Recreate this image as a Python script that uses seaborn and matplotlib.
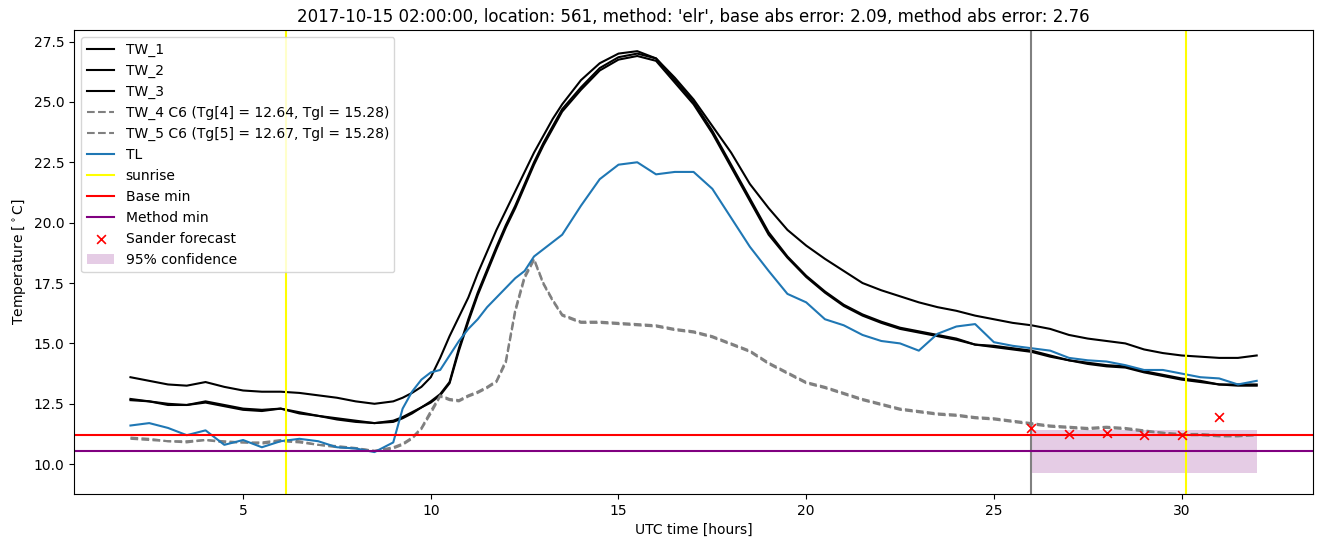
import numpy as np
import matplotlib
matplotlib.use("Agg")
import matplotlib.pyplot as plt
import seaborn as sns

# time grid (hours UTC), finer during the morning warm-up
hours = [2.0, 2.5, 3.0, 3.5, 4.0, 4.5, 5.0, 5.5, 6.0, 6.5, 7.0, 7.5, 8.0, 8.5,
         9.0, 9.25, 9.5, 9.75, 10.0, 10.25, 10.5, 10.75, 11.0, 11.25, 11.5, 11.75,
         12.0, 12.25, 12.5, 12.75, 13.0, 13.25, 13.5,
         14.0, 14.5, 15.0, 15.5, 16.0, 16.5, 17.0, 17.5, 18.0, 18.5, 19.0, 19.5,
         20.0, 20.5, 21.0, 21.5, 22.0, 22.5, 23.0, 23.5, 24.0, 24.5, 25.0, 25.5,
         26.0, 26.5, 27.0, 27.5, 28.0, 28.5, 29.0, 29.5, 30.0, 30.5, 31.0, 31.5, 32.0]

tw_1 = [12.7, 12.6, 12.5, 12.45, 12.6, 12.45, 12.3, 12.25, 12.3, 12.15, 12.0, 11.9, 11.8, 11.7,
        11.8, 11.95, 12.15, 12.35, 12.6, 12.9, 13.4, 14.8, 16.0, 17.1, 18.05, 19.0,
        19.9, 20.7, 21.6, 22.5, 23.3, 24.0, 24.7,
        25.6, 26.4, 26.85, 27.0, 26.8, 25.9, 25.0, 23.8, 22.4, 21.0, 19.6, 18.6,
        17.8, 17.15, 16.6, 16.2, 15.9, 15.65, 15.5, 15.35, 15.2, 14.95, 14.9, 14.8,
        14.7, 14.5, 14.3, 14.2, 14.1, 14.05, 13.85, 13.7, 13.55, 13.45, 13.3, 13.3, 13.3]

tw_2 = [12.65, 12.6, 12.45, 12.45, 12.55, 12.4, 12.25, 12.2, 12.3, 12.1, 12.0, 11.85, 11.75, 11.7,
        11.75, 11.9, 12.1, 12.35, 12.55, 12.85, 13.35, 14.7, 15.9, 17.0, 17.95, 18.9,
        19.8, 20.6, 21.5, 22.4, 23.2, 23.9, 24.6,
        25.5, 26.3, 26.75, 26.9, 26.7, 25.8, 24.9, 23.7, 22.3, 20.9, 19.5, 18.55,
        17.75, 17.1, 16.55, 16.15, 15.85, 15.6, 15.45, 15.3, 15.15, 14.95, 14.85, 14.75,
        14.65, 14.45, 14.3, 14.15, 14.05, 14.0, 13.8, 13.65, 13.5, 13.4, 13.3, 13.25, 13.25]

tw_3 = [13.6, 13.45, 13.3, 13.25, 13.4, 13.2, 13.05, 13.0, 13.0, 12.95, 12.85, 12.75, 12.6, 12.5,
        12.6, 12.75, 12.95, 13.2, 13.6, 14.4, 15.3, 16.1, 16.9, 17.9, 18.8, 19.7,
        20.5, 21.3, 22.1, 22.9, 23.6, 24.3, 24.9,
        25.9, 26.6, 27.0, 27.1, 26.8, 26.0, 25.1, 24.0, 22.9, 21.6, 20.6, 19.7,
        19.05, 18.5, 18.0, 17.5, 17.2, 16.95, 16.7, 16.5, 16.35, 16.15, 16.0, 15.85,
        15.75, 15.6, 15.35, 15.2, 15.1, 15.0, 14.75, 14.6, 14.5, 14.45, 14.4, 14.4, 14.5]

tw_4 = [11.1, 11.05, 10.95, 10.95, 11.0, 10.95, 10.9, 10.9, 11.0, 10.95, 10.8, 10.75, 10.67, 10.55,
        10.7, 10.85, 11.1, 11.5, 12.2, 12.85, 12.7, 12.65, 12.85, 13.0, 13.2, 13.45,
        14.3, 16.4, 17.8, 18.5, 17.5, 16.8, 16.2,
        15.9, 15.9, 15.85, 15.8, 15.75, 15.6, 15.5, 15.3, 15.0, 14.7, 14.2, 13.8,
        13.4, 13.2, 12.95, 12.7, 12.5, 12.3, 12.2, 12.1, 12.05, 11.95, 11.9, 11.8,
        11.7, 11.6, 11.55, 11.5, 11.55, 11.5, 11.4, 11.3, 11.25, 11.25, 11.2, 11.2, 11.2]

tw_5 = [11.05, 11.0, 10.95, 10.9, 11.0, 10.9, 10.9, 10.85, 10.95, 10.9, 10.8, 10.7, 10.65, 10.55,
        10.65, 10.8, 11.05, 11.45, 12.1, 12.8, 12.65, 12.6, 12.8, 12.95, 13.15, 13.4,
        14.2, 16.3, 17.7, 18.45, 17.45, 16.75, 16.15,
        15.85, 15.85, 15.8, 15.75, 15.7, 15.55, 15.45, 15.25, 14.95, 14.65, 14.15, 13.75,
        13.35, 13.15, 12.9, 12.65, 12.45, 12.25, 12.15, 12.05, 12.0, 11.9, 11.85, 11.75,
        11.65, 11.55, 11.5, 11.45, 11.5, 11.45, 11.35, 11.3, 11.2, 11.2, 11.15, 11.15, 11.2]

tl = [11.6, 11.7, 11.5, 11.2, 11.4, 10.8, 11.0, 10.7, 10.95, 11.05, 10.95, 10.7, 10.65, 10.5,
      10.9, 12.3, 13.0, 13.5, 13.8, 13.9, 14.5, 15.1, 15.6, 16.0, 16.5, 16.9,
      17.3, 17.7, 18.0, 18.6, 18.9, 19.2, 19.5,
      20.7, 21.8, 22.4, 22.5, 22.0, 22.1, 22.1, 21.4, 20.2, 19.0, 18.0, 17.05,
      16.7, 16.0, 15.75, 15.35, 15.1, 15.0, 14.7, 15.4, 15.7, 15.8, 15.05, 14.9,
      14.8, 14.7, 14.4, 14.3, 14.25, 14.1, 13.9, 13.9, 13.75, 13.6, 13.55, 13.3, 13.45]

sunrise = [6.14, 30.12]
forecast_start = 26.0
base_min = 11.21
method_min = 10.55

forecast_hours = [26, 27, 28, 29, 30, 31]
sander_forecast = [11.5, 11.25, 11.3, 11.2, 11.2, 11.97]
conf_hours = [26, 32]
conf_lower = [9.64, 9.64]
conf_upper = [11.42, 11.42]

title = ("2017-10-15 02:00:00, location: 561, method: 'elr', "
         "base abs error: 2.09, method abs error: 2.76")

fig, ax = plt.subplots(figsize=(13.24, 5.47), dpi=100)
fig.subplots_adjust(left=0.056, right=0.9917, top=0.945, bottom=0.097)

sns.lineplot(x=hours, y=tw_1, color="black", label="TW_1", ax=ax)
sns.lineplot(x=hours, y=tw_2, color="black", label="TW_2", ax=ax)
sns.lineplot(x=hours, y=tw_3, color="black", label="TW_3", ax=ax)
sns.lineplot(x=hours, y=tw_4, color="grey", linestyle="--",
             label="TW_4 C6 (Tg[4] = 12.64, Tgl = 15.28)", ax=ax)
sns.lineplot(x=hours, y=tw_5, color="grey", linestyle="--",
             label="TW_5 C6 (Tg[5] = 12.67, Tgl = 15.28)", ax=ax)
sns.lineplot(x=hours, y=tl, color="tab:blue", label="TL", ax=ax)

ax.axvline(sunrise[0], color="yellow", label="sunrise")
ax.axvline(sunrise[1], color="yellow")
ax.axvline(forecast_start, color="grey")
ax.axhline(base_min, color="red", label="Base min")
ax.axhline(method_min, color="purple", label="Method min")

sns.scatterplot(x=forecast_hours, y=sander_forecast, marker="x", color="red",
                s=40, linewidth=1.2, label="Sander forecast", ax=ax, zorder=5)
ax.fill_between(conf_hours, conf_lower, conf_upper, color="purple", alpha=0.2,
                linewidth=0, label="95% confidence")

ax.set_title(title)
ax.set_xlabel("UTC time [hours]")
ax.set_ylabel(r"Temperature [$^\circ$C]")
ax.legend(loc="upper left")

fig.savefig("out.png", dpi=100)
